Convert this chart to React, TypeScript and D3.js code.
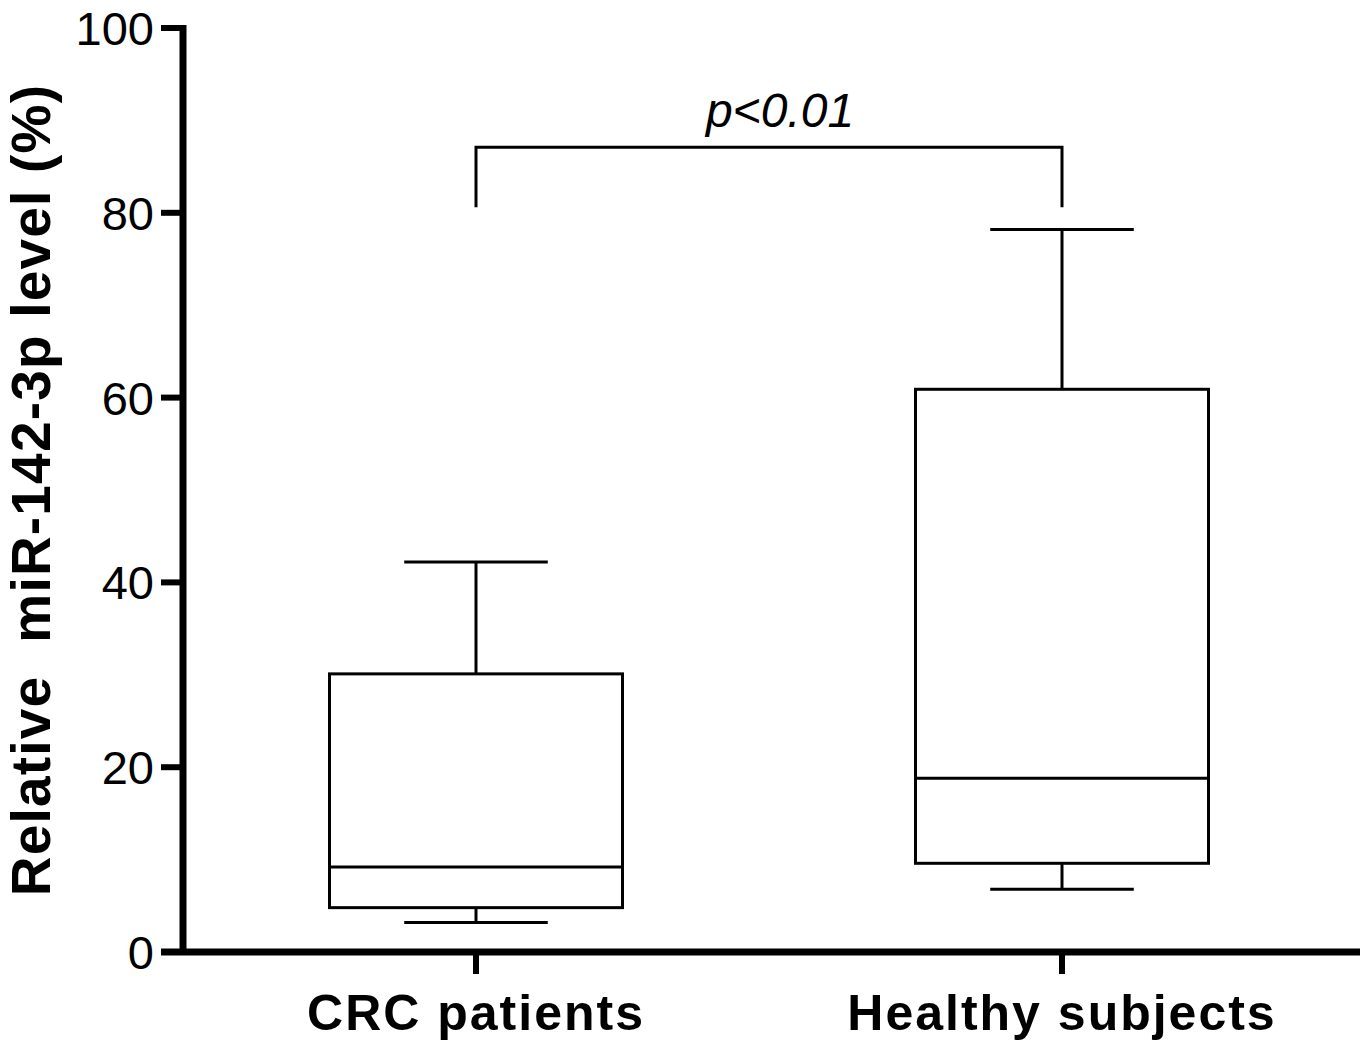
import React, { useEffect } from 'react';
import * as d3 from 'd3';

const groups = ['CRC patients', 'Healthy subjects'];
const whiskerMin = [3.2, 6.8];
const q1 = [4.8, 9.6];
const median = [9.2, 18.8];
const q3 = [30.1, 60.9];
const whiskerMax = [42.2, 78.2];
const yTicks = [0, 20, 40, 60, 80, 100];
const bracketTop = 87.1;
const bracketEnd = 80.6;
const pLabel = 'p<0.01';
const yLabel = 'Relative\u00a0\u00a0miR-142-3p level (%)';

const W = 1370, H = 1052;
const margin = { top: 28, right: 15, bottom: 100, left: 183 };
const font = '"Liberation Sans", Arial, Helvetica, sans-serif';

export default function App() {
  useEffect(() => { document.body.style.margin = '0'; }, []);

  const x = d3.scaleBand<string>().domain(groups).range([margin.left, W - margin.right]).paddingInner(0).paddingOuter(0);
  const y = d3.scaleLinear().domain([0, 100]).range([H - margin.bottom, margin.top]);
  const bw = x.bandwidth();
  const boxW = bw * 0.5;
  const capW = bw * 0.245;
  const cx = (g: string) => (x(g) ?? 0) + bw / 2;
  const y0 = y(0);

  return (
    <svg width={W} height={H} style={{ display: 'block', background: '#fff' }}>
      {/* boxes */}
      {groups.map((g, i) => {
        const c = cx(g);
        return (
          <g key={g} stroke="#000" strokeWidth={3} fill="none">
            <line x1={c} x2={c} y1={y(whiskerMax[i])} y2={y(q3[i])} />
            <line x1={c - capW / 2} x2={c + capW / 2} y1={y(whiskerMax[i])} y2={y(whiskerMax[i])} />
            <line x1={c} x2={c} y1={y(q1[i])} y2={y(whiskerMin[i])} />
            <line x1={c - capW / 2} x2={c + capW / 2} y1={y(whiskerMin[i])} y2={y(whiskerMin[i])} />
            <rect x={c - boxW / 2} y={y(q3[i])} width={boxW} height={y(q1[i]) - y(q3[i])} />
            <line x1={c - boxW / 2} x2={c + boxW / 2} y1={y(median[i])} y2={y(median[i])} />
          </g>
        );
      })}

      {/* significance bracket */}
      <path
        d={`M${cx(groups[0])},${y(bracketEnd)}V${y(bracketTop)}H${cx(groups[1])}V${y(bracketEnd)}`}
        fill="none" stroke="#000" strokeWidth={3}
      />
      <text x={(cx(groups[0]) + cx(groups[1])) / 2 + 11} y={y(bracketTop) - 20} textAnchor="middle"
        fontFamily={font} fontStyle="italic" fontSize={48}>{pLabel}</text>

      {/* y axis */}
      <line x1={margin.left} x2={margin.left} y1={y(100) - 3} y2={y0 + 3} stroke="#000" strokeWidth={7} />
      {yTicks.map(t => (
        <g key={t}>
          <line x1={margin.left - 22} x2={margin.left} y1={y(t)} y2={y(t)} stroke="#000" strokeWidth={6} />
          <text x={margin.left - 29} y={y(t)} dy="0.36em" textAnchor="end" fontFamily={font} fontSize={47}>{t}</text>
        </g>
      ))}

      {/* x axis */}
      <line x1={margin.left - 22} x2={W - 10} y1={y0} y2={y0} stroke="#000" strokeWidth={7} />
      {groups.map(g => (
        <g key={g}>
          <line x1={cx(g)} x2={cx(g)} y1={y0} y2={y0 + 22} stroke="#000" strokeWidth={6} />
          <text x={cx(g)} y={y0 + 78} textAnchor="middle" fontFamily={font} fontWeight="bold" fontSize={50}
            letterSpacing={2}>{g}</text>
        </g>
      ))}

      <text transform={`translate(50,${(y(0) + y(100)) / 2}) rotate(-90)`} textAnchor="middle"
        fontFamily={font} fontWeight="bold" fontSize={55} letterSpacing={1.2}>{yLabel}</text>
    </svg>
  );
}
